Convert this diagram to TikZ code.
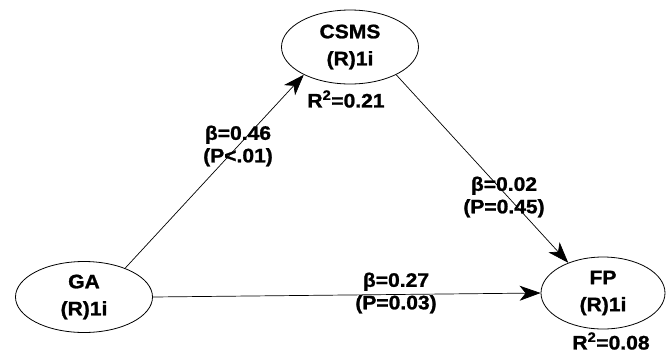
\documentclass[tikz,border=0pt]{standalone}
\usepackage{fontspec}
\setmainfont{Liberation Sans}[BoldFeatures={FakeBold=1.2,FakeStretch=1.08}]
\usetikzlibrary{shapes.geometric,arrows.meta}
\begin{document}
\begin{tikzpicture}[x=1pt,y=-1pt,
  lv/.style={ellipse,draw,line width=0.8pt,inner sep=0pt,align=center,
    font=\fontsize{19.5}{27}\selectfont\bfseries},
  lbl/.style={align=center,inner sep=0pt,font=\fontsize{19.5}{22.5}\selectfont\bfseries},
  pathline/.style={draw,line width=0.7pt,-{Stealth[length=21pt,width=15pt,inset=6pt]}}]
\path[use as bounding box,fill=white] (0,0) rectangle (667,354);
\node[lv,minimum width=137pt,minimum height=71pt] (GA) at (84,297) {GA\\(R)1i};
\node[lv,minimum width=137pt,minimum height=74pt] (CSMS) at (350,47) {CSMS\\(R)1i};
\node[lv,minimum width=124pt,minimum height=72pt] (FP) at (603,293) {FP\\(R)1i};
\node[lbl] (r1) at (346,99) {R\textsuperscript{2}=0.21};
\node[lbl] (r2) at (611,341) {R\textsuperscript{2}=0.08};
\node[lbl] (b1) at (238,146) {β=0.46\\(P<.01)};
\node[lbl] (b2) at (504,197) {β=0.02\\(P=0.45)};
\node[lbl] (b3) at (396,293) {β=0.27\\(P=0.03)};
\draw[pathline] (GA.35) -- (CSMS.211);
\draw[pathline] (CSMS.329) -- (FP.139);
\draw[pathline] (GA.east) -- (FP.west);
\end{tikzpicture}
\end{document}
